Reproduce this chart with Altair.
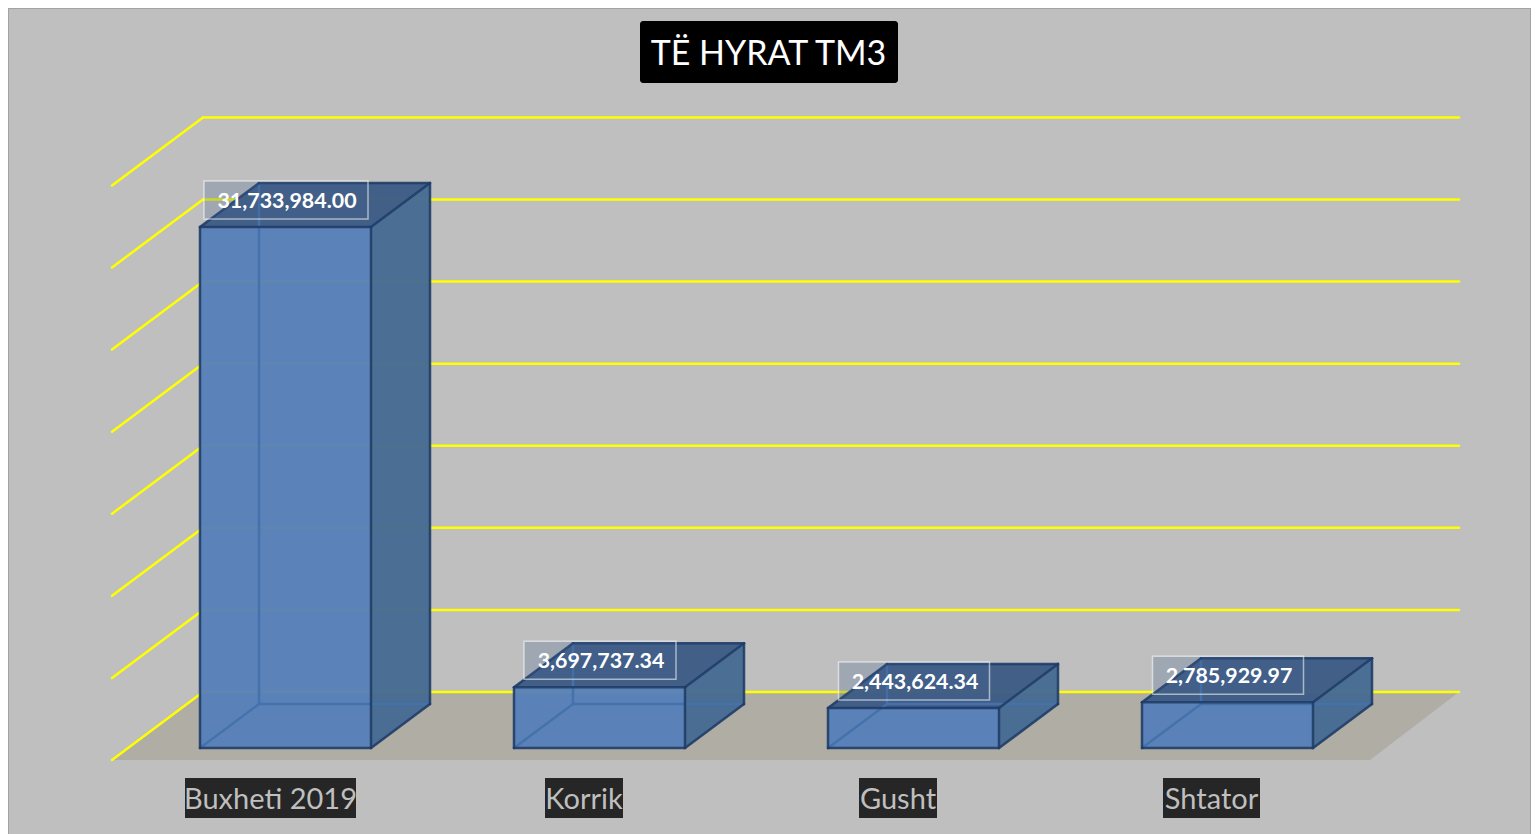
import altair as alt
import pandas as pd

categories = ["Buxheti 2019", "Korrik", "Gusht", "Shtator"]
values = [31733984.00, 3697737.34, 2443624.34, 2785929.97]
value_labels = ["31,733,984.00", "3,697,737.34", "2,443,624.34", "2,785,929.97"]
grid_values = [0, 5e6, 10e6, 15e6, 20e6, 25e6, 30e6, 35e6]
title_text = "TË HYRAT TM3"

# chart geometry
W, H = 1523, 832
OX, OY = 8, 8              # page offset of the chart
BASE = 748                 # page y of the value 0 at the front of the bars
K = 521 / 31733984         # pixels per unit of value
BAR_LEFT0, BAR_STEP, BAR_W = 200, 314, 171
DX, DY = 59, 44            # depth of a bar
LABEL_BOX_W = [164, 152, 151, 151]
CAT_BOX = [(185, 356), (545, 623), (859, 937), (1163, 1260)]


def py(p):
    """page y -> value"""
    return (BASE - p) / K


def d(p):
    """pixel distance -> value distance"""
    return p / K


x_s = alt.Scale(domain=[OX, OX + W], range=[0, W], nice=False, zero=False)
y_s = alt.Scale(domain=[py(OY + H), py(OY)], range=[H, 0], nice=False, zero=False)
X = alt.X("x:Q", scale=x_s, axis=None)
Y = alt.Y("y:Q", scale=y_s, axis=None)


def segs(rows):
    return pd.DataFrame(rows, columns=["x", "y", "x2", "y2"])


def rules(rows, color, width, opacity=1):
    return alt.Chart(segs(rows)).mark_rule(
        color=color, strokeWidth=width, opacity=opacity, strokeCap="round"
    ).encode(x=X, y=Y, x2="x2:Q", y2="y2:Q")


def area(pts, color, opacity=1):
    df = pd.DataFrame(pts, columns=["x", "y", "y2", "f"])
    return alt.Chart(df).mark_area(color=color, opacity=opacity, interpolate="linear").encode(
        x=X, y=alt.Y("y:Q", scale=y_s, axis=None, stack=None), y2="y2:Q", detail="f:N"
    )


layers = []

# floor
fb, ff = py(692), py(760)
layers.append(area([(112, ff, ff, 0), (203, fb, ff, 0), (1370, fb, ff, 0), (1459, fb, fb, 0)], "#b0ada5"))

# grid
g = []
for v in grid_values:
    g.append((112, ff + v, 203, fb + v))
    g.append((203, fb + v, 1459, fb + v))
layers.append(rules(g, "#ffff00", 2.5))

# bars
front, side, top, hidden, edges = [], [], [], [], []
for i, v in enumerate(values):
    x0 = BAR_LEFT0 + i * BAR_STEP
    x1 = x0 + BAR_W
    dv = d(DY)
    front.append((x0, v, x1, 0))
    side += [(x1, v, 0, i), (x1 + DX, v + dv, dv, i)]
    top += [(x0, v, v, i), (x0 + DX, v + dv, v, i), (x1, v + dv, v, i), (x1 + DX, v + dv, v + dv, i)]
    hidden += [
        (x0 + DX, v + dv, x0 + DX, dv),
        (x0 + DX, dv, x1 + DX, dv),
        (x0, 0, x0 + DX, dv),
    ]
    edges += [
        (x0, 0, x1, 0), (x0, v, x1, v), (x0, 0, x0, v), (x1, 0, x1, v),
        (x1, 0, x1 + DX, dv), (x1, v, x1 + DX, v + dv), (x1 + DX, dv, x1 + DX, v + dv),
        (x0, v, x0 + DX, v + dv), (x0 + DX, v + dv, x1 + DX, v + dv),
    ]

layers.append(area(side, "#466a92", 0.96))
layers.append(area(top, "#3c5b85", 0.96))
layers.append(
    alt.Chart(segs(front)).mark_rect(color="#5680b8", opacity=0.95).encode(x=X, y=Y, x2="x2:Q", y2="y2:Q")
)
layers.append(rules(hidden, "#4472ac", 2.5))
layers.append(rules(edges, "#1f3d68", 2.5, 0.9))

# value labels
box = []
txt = []
for i, v in enumerate(values):
    c = BAR_LEFT0 + i * BAR_STEP + BAR_W / 2 + 0.5
    w = LABEL_BOX_W[i]
    box.append((c - w / 2, v + d(27 + 19), c + w / 2, v + d(27 - 19)))
    txt.append({"x": c + 1, "y": v + d(25), "t": value_labels[i]})
layers.append(
    alt.Chart(segs(box)).mark_rect(
        fill="#3f5f8c", fillOpacity=0.25, stroke="#ffffff", strokeOpacity=0.55, strokeWidth=1.5
    ).encode(x=X, y=Y, x2="x2:Q", y2="y2:Q")
)
layers.append(
    alt.Chart(pd.DataFrame(txt)).mark_text(
        font="Lato", fontSize=21.4, fontWeight="bold", color="#ffffff", align="center", baseline="middle"
    ).encode(x=X, y=Y, text="t:N")
)

# category labels
cbox = [(a, py(778), b, py(818)) for a, b in CAT_BOX]
layers.append(alt.Chart(segs(cbox)).mark_rect(color="#262626").encode(x=X, y=Y, x2="x2:Q", y2="y2:Q"))
ctext = pd.DataFrame(
    {"x": [(a + b) / 2 for a, b in CAT_BOX], "y": [py(800)] * 4, "t": categories}
)
layers.append(
    alt.Chart(ctext).mark_text(
        font="Lato", fontSize=29, color="#bfbfbf", align="center", baseline="middle"
    ).encode(x=X, y=Y, text="t:N")
)

# title
layers.append(
    alt.Chart(segs([(640, py(21), 898, py(83))])).mark_rect(color="#000000", cornerRadius=3).encode(
        x=X, y=Y, x2="x2:Q", y2="y2:Q"
    )
)
layers.append(
    alt.Chart(pd.DataFrame({"x": [768.5], "y": [py(55)], "t": [title_text]})).mark_text(
        font="Lato", fontSize=34, color="#ffffff", align="center", baseline="middle"
    ).encode(x=X, y=Y, text="t:N")
)

chart = (
    alt.layer(*layers)
    .properties(width=W, height=H, padding=0, background="#bfbfbf")
    .configure_view(stroke="#a3a3a3", strokeWidth=2)
)
chart.save("out.html", embed_options={"renderer": "svg", "actions": False})
